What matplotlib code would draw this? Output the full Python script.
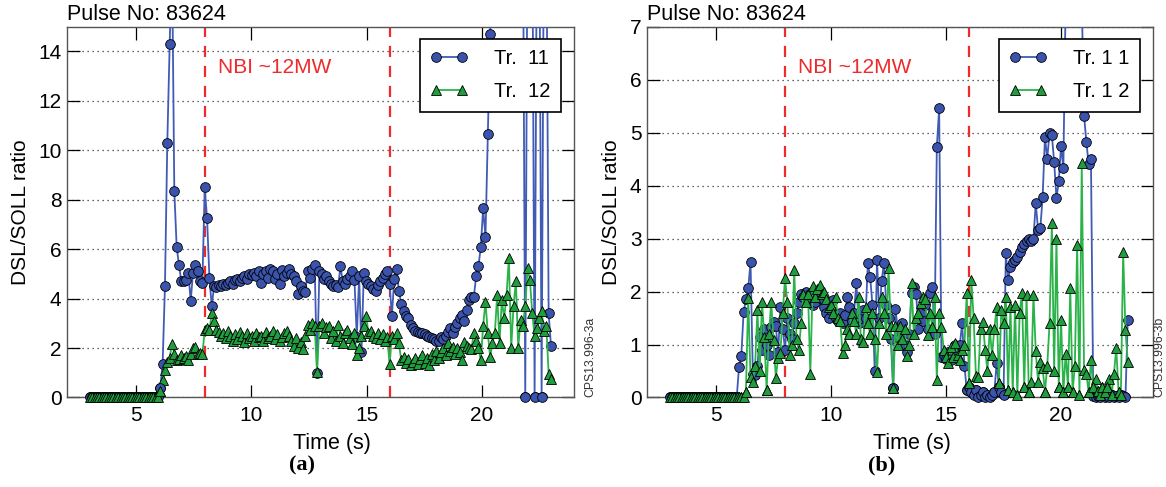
"""
DSL/SOLL ratio for pulse 83624, two views (a) and (b)
"""

import numpy as np
import matplotlib
matplotlib.use('Agg')
import matplotlib.pyplot as plt

plt.rcParams['font.family'] = ['Liberation Sans', 'DejaVu Sans']

# sampling window of each panel (s)
t_a = (3.0, 23.0)
t_b = (3.0, 22.9)

# panel (a), Tr. 11 and Tr. 12, one row per second starting at 3 s
a_tr11 = [
  0, 0, 0, 0, 0, 0, 0, 0, 0, 0,
  0, 0, 0, 0, 0, 0, 0, 0, 0, 0,
  0, 0, 0, 0, 0, 0, 0, 0, 0, 0,
  0.4, 1.35, 4.5, 10.3, 14.3, 18, 8.35, 6.1, 5.35, 4.7,
  4.7, 4.75, 5.05, 3.9, 5.05, 5.35, 5.1, 4.7, 4.65, 8.5,
  7.25, 4.85, 3.7, 4.5, 4.45, 4.55, 4.5, 4.6, 4.55, 4.65,
  4.7, 4.6, 4.75, 4.8, 4.7, 4.85, 4.9, 4.8, 5.0, 4.95,
  5.05, 4.9, 5.1, 4.65, 5.0, 5.1, 4.85, 5.2, 5.1, 4.8,
  5.0, 4.6, 5.15, 4.9, 5.05, 5.2, 5.0, 4.9, 4.7, 4.2,
  4.5, 4.3, 4.25, 5.1, 4.85, 5.2, 5.35, 1.0, 5.1, 5.0,
  4.8, 4.9, 4.7, 4.6, 4.5, 4.55, 4.45, 5.3, 4.7, 4.6,
  4.8, 4.9, 5.1, 4.75, 2.45, 4.9, 1.85, 5.05, 4.7, 4.6,
  4.5, 4.4, 4.3, 4.55, 4.7, 4.85, 5.0, 5.1, 4.6, 3.3,
  4.8, 5.2, 4.3, 3.8, 3.5, 3.3, 3.2, 2.95, 2.8, 2.7,
  2.65, 2.6, 2.6, 2.55, 2.5, 2.45, 2.4, 2.35, 2.3, 2.3,
  2.45, 2.35, 2.5, 2.65, 2.8, 2.6, 2.85, 3.0, 3.2, 3.35,
  3.1, 3.55, 3.95, 4.05, 4.05, 4.9, 5.3, 6.1, 7.65, 6.5,
  10.65, 14.7, 20, 20, 20, 20, 20, 20, 20, 20,
  20, 20, 20, 20, 20, 20, 0, 20, 20, 20,
  0, 20, 20, 0, 20, 20, 3.4, 2.1,
]
a_tr12 = [
  0, 0, 0, 0, 0, 0, 0, 0, 0, 0,
  0, 0, 0, 0, 0, 0, 0, 0, 0, 0,
  0, 0, 0, 0, 0, 0, 0, 0, 0, 0,
  0.28, 0.69, 1.1, 1.44, 1.6, 2.18, 1.75, 1.5, 1.55, 1.7,
  1.6, 1.68, 1.5, 1.75, 2.0, 2.05, 1.77, 1.8, 1.75, 2.72,
  2.8, 2.72, 3.4, 3.1, 2.72, 2.65, 2.5, 2.6, 2.4, 2.7,
  2.5, 2.3, 2.55, 2.35, 2.65, 2.5, 2.25, 2.6, 2.4, 2.5,
  2.3, 2.6, 2.45, 2.5, 2.3, 2.65, 2.4, 2.5, 2.7, 2.35,
  2.55, 2.3, 2.45, 2.6, 2.7, 2.5, 2.3, 2.1, 2.4, 2.0,
  2.25, 1.95, 2.5, 2.95, 2.75, 3.0, 2.9, 1.05, 2.9, 3.0,
  2.6, 2.85, 2.9, 2.4, 2.7, 2.3, 2.95, 2.5, 2.2, 2.6,
  2.75, 2.4, 2.15, 2.6, 1.7, 2.0, 2.5, 2.9, 3.3, 2.6,
  2.7, 2.5, 2.4, 2.6, 2.35, 2.55, 2.3, 2.45, 1.35, 2.5,
  2.35, 2.6, 2.2, 1.5, 1.65, 1.4, 1.55, 1.3, 1.45, 1.6,
  1.35, 1.55, 1.7, 1.4, 1.6, 1.3, 1.75, 1.5, 1.9, 1.6,
  1.85, 2.0, 1.7, 2.2, 1.9, 2.05, 1.75, 2.0, 1.85, 1.5,
  2.25, 2.1, 2.0, 1.95, 2.6, 2.3, 2.0, 1.5, 2.9, 3.87,
  2.6, 1.65, 2.2, 2.6, 4.15, 2.2, 3.95, 3.2, 4.15, 5.64,
  2.0, 3.7, 4.7, 2.0, 3.15, 2.9, 3.7, 5.23, 4.75, 3.4,
  2.5, 2.8, 3.2, 3.5, 2.7, 2.9, 0.96, 0.75,
]

# panel (b)
b_tr11 = [
  0, 0, 0, 0, 0, 0, 0, 0, 0, 0,
  0, 0, 0, 0, 0, 0, 0, 0, 0, 0,
  0, 0, 0, 0, 0, 0, 0, 0, 0, 0,
  0.58, 0.79, 1.62, 1.85, 2.06, 2.56, 0.45, 0.42, 0.6, 1.15,
  0.9, 1.3, 1.0, 0.8, 1.34, 1.42, 1.35, 0.85, 1.71, 1.3,
  0.9, 1.5, 1.2, 1.1, 1.4, 1.59, 1.8, 1.95, 1.9, 2.0,
  1.85, 1.95, 1.75, 1.8, 1.9, 2.0, 1.85, 1.7, 1.6, 1.5,
  1.65, 1.84, 1.5, 1.45, 1.6, 1.4, 1.55, 1.9, 1.7, 1.45,
  1.6, 2.16, 1.4, 1.5, 1.65, 1.5, 2.53, 2.28, 1.75, 0.5,
  2.6, 1.5, 2.2, 2.53, 1.75, 1.5, 1.1, 0.17, 1.67, 1.3,
  1.1, 1.4, 1.0, 0.85, 1.2, 1.97, 2.09, 1.95, 1.3, 1.6,
  1.45, 1.75, 1.3, 1.97, 2.09, 1.2, 4.73, 5.46, 0.77, 0.8,
  0.72, 0.85, 0.7, 0.9, 1.0, 0.95, 1.0, 1.4, 0.6, 0.14,
  0.2, 0.1, 0.05, 0.15, 0.0, 0.05, 0.1, 0.0, 0.05, 0.0,
  0.05, 0.1, 0.65, 0.2, 0.1, 0.05, 2.72, 2.22, 2.47, 2.55,
  2.59, 2.65, 2.75, 2.85, 2.9, 2.95, 3.0, 2.95, 3.0, 3.67,
  3.17, 3.2, 3.79, 4.92, 4.51, 5.0, 4.95, 4.45, 3.76, 4.08,
  4.75, 4.33, 7.5, 7.5, 7.5, 7.5, 7.5, 7.5, 7.5, 7.5,
  5.32, 4.83, 4.4, 4.5, 0.02, 0.0, 0.03, 0.0, 0.05, 0.0,
  0.02, 0.0, 0.04, 0.0, 0.03, 0.0, 0.05, 0.02, 0.0, 1.46,
]
b_tr12 = [
  0, 0, 0, 0, 0, 0, 0, 0, 0, 0,
  0, 0, 0, 0, 0, 0, 0, 0, 0, 0,
  0, 0, 0, 0, 0, 0, 0, 0, 0, 0,
  0, 0, 0, 0.11, 1.87, 0.39, 0.3, 0.6, 1.65, 0.5,
  1.8, 1.14, 0.15, 1.2, 1.8, 1.08, 0.37, 0.75, 0.84, 1.6,
  2.25, 1.8, 0.8, 1.0, 2.41, 1.1, 0.9, 1.4, 1.96, 1.8,
  1.96, 0.45, 2.1, 1.9, 2.05, 2.12, 1.95, 2.0, 1.85, 1.7,
  1.75, 1.6, 1.9, 1.5, 1.45, 0.84, 1.0, 1.3, 1.2, 1.6,
  1.45, 1.2, 1.9, 1.1, 1.05, 1.7, 1.4, 1.2, 1.6, 1.1,
  0.48, 1.4, 1.9, 1.6, 1.2, 2.44, 1.35, 0.17, 1.35, 1.0,
  1.35, 1.1, 1.3, 0.78, 1.0, 2.16, 1.2, 1.5, 1.59, 1.78,
  1.9, 1.85, 1.18, 1.6, 1.34, 1.9, 0.33, 1.6, 1.34, 0.9,
  0.77, 0.65, 0.96, 0.77, 1.02, 0.8, 0.7, 0.9, 1.0, 1.97,
  0.27, 2.22, 1.5, 0.4, 0.38, 1.3, 1.43, 0.9, 0.5, 1.3,
  0.8, 1.3, 1.7, 0.27, 1.66, 1.4, 1.9, 0.15, 1.7, 0.1,
  1.75, 0.05, 1.6, 1.97, 0.2, 1.93, 0.1, 0.3, 1.93, 0.87,
  0.3, 0.67, 0.55, 0.1, 0.6, 1.4, 3.29, 0.5, 3.0, 0.2,
  1.47, 0.1, 0.83, 0.2, 2.06, 0.1, 0.6, 2.88, 0.05, 4.42,
  0.52, 0.45, 0.1, 0.7, 0.2, 0.35, 0.13, 0.05, 0.2, 0.1,
  0.2, 0.35, 0.05, 0.45, 0.93, 0.1, 0.05, 2.75, 1.27, 0.67,
]

nbi_on, nbi_off = 8.0, 16.0
pulse = 'Pulse No: 83624'

BLUE_LINE = '#3f5bb5'
BLUE_FACE = '#3a54ad'
GREEN_LINE = '#2bb34a'
GREEN_FACE = '#1e9e3c'
RED = '#ee2a2a'


def plotSeries(ax, t, v, ymax, line, face, marker, ms, label):
  v = np.asarray(v, dtype=float)
  ax.plot(t, v, '-', color=line, lw=1.3, marker=marker, ms=ms,
          mfc=face, mec='black', mew=0.6, label=label, zorder=3)
  # markers sitting on the zero line are drawn whole, as in the original
  low = v < 0.04 * ymax
  ax.plot(t[low], v[low], ls='none', marker=marker, ms=ms,
          mfc=face, mec='black', mew=0.6, clip_on=False, zorder=4)


def drawPanel(ax, span, tr11, tr12, ymax, names, tag, code, code_x):
  ta = np.linspace(span[0], span[1], len(tr11))
  tb = np.linspace(span[0], span[1], len(tr12))

  ax.yaxis.grid(True, linestyle=(0, (1, 3)), color='#333333', lw=0.9)
  ax.set_axisbelow(True)

  plotSeries(ax, ta, tr11, ymax, BLUE_LINE, BLUE_FACE, 'o', 7, names[0])
  plotSeries(ax, tb, tr12, ymax, GREEN_LINE, GREEN_FACE, '^', 7.5, names[1])

  for x in (nbi_on, nbi_off):
    ax.axvline(x, color=RED, lw=1.6, ls=(0, (5, 4)), zorder=2)
  ax.text(nbi_on + 0.55, 0.89 * ymax, 'NBI ~12MW', color=RED, fontsize=15,
          va='center')

  ax.set_xlim(2, 24)
  ax.set_ylim(0, ymax)
  ax.set_xticks([5, 10, 15, 20])
  ax.set_yticks(np.arange(0, ymax + 1, 2 if ymax > 10 else 1))
  ax.tick_params(direction='in', top=True, right=True, length=9, width=0.9,
                 labelsize=15)
  ax.tick_params(axis='x', pad=6)
  ax.tick_params(axis='y', pad=4)
  for s in ax.spines.values():
    s.set_color('#555555')
    s.set_linewidth(1.0)

  ax.set_xlabel('Time (s)', fontsize=15.5)
  ax.xaxis.set_label_coords(0.523, -0.095)
  ax.set_ylabel('DSL/SOLL ratio', fontsize=15, labelpad=6)

  ax.text(0.0, 1.004, pulse, transform=ax.transAxes, fontsize=15.5,
          va='bottom', ha='left')
  ax.text(code_x, 0.0, code, transform=ax.transAxes, fontsize=8.8,
          rotation=90, va='bottom', ha='center', color='#333333')

  leg = ax.legend(loc='upper right', bbox_to_anchor=(0.974, 0.966),
                  borderaxespad=0, numpoints=2, handlelength=1.9,
                  fancybox=False, framealpha=1, edgecolor='black',
                  borderpad=0.5, labelspacing=0.7, handletextpad=1.3,
                  prop={'size': 14.5})
  leg.get_frame().set_linewidth(1.2)

  ax.text(0.463, -0.183, tag, transform=ax.transAxes, fontsize=16,
          fontweight='bold', family=['Liberation Serif', 'DejaVu Serif'],
          ha='center', va='center')


fig = plt.figure(figsize=(11.66, 4.87), dpi=100)
ax1 = fig.add_axes([0.0575, 0.1838, 0.4348, 0.7614])
ax2 = fig.add_axes([0.5549, 0.1838, 0.4340, 0.7614])

drawPanel(ax1, t_a, a_tr11, a_tr12, 15, ['Tr.  11', 'Tr.  12'], '(a)',
          'CPS13.996-3a', 1.0316)
drawPanel(ax2, t_b, b_tr11, b_tr12, 7, ['Tr. 1 1', 'Tr. 1 2'], '(b)',
          'CPS13.996-3b', 1.0119)

fig.savefig('out.png', dpi=100)
